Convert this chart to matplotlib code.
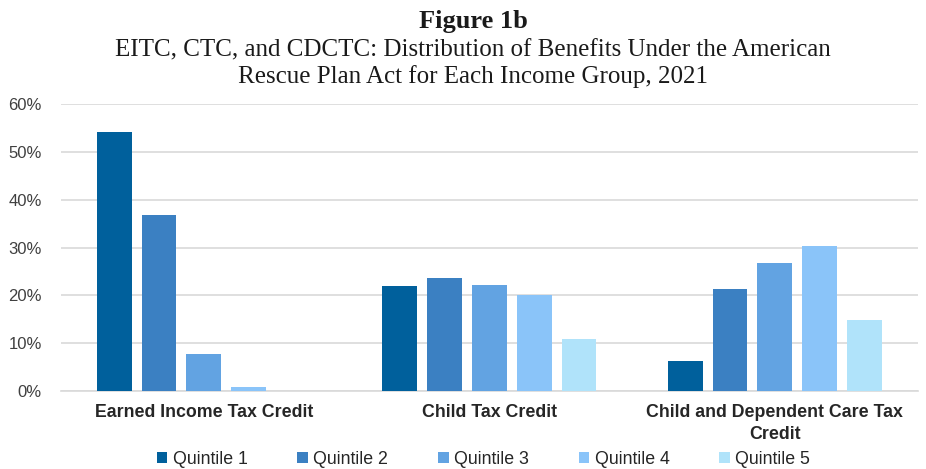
import numpy as np
import matplotlib.pyplot as plt
from matplotlib.ticker import PercentFormatter

categories = ["Earned Income Tax Credit", "Child Tax Credit",
              "Child and Dependent Care Tax\nCredit"]
series_names = ["Quintile 1", "Quintile 2", "Quintile 3", "Quintile 4", "Quintile 5"]
q1 = [54.2, 22.0, 6.3]
q2 = [36.8, 23.7, 21.4]
q3 = [7.7, 22.2, 26.8]
q4 = [0.8, 20.0, 30.4]
q5 = [0.0, 10.9, 14.9]
colors = ["#00609c", "#3b80c2", "#62a3e2", "#8ac4f9", "#b0e3fa"]

plt.rcParams['font.family'] = ['Liberation Sans', 'DejaVu Sans']

fig = plt.figure(figsize=(9.26, 4.69), dpi=100)
ax = fig.add_axes([0.066, 0.166, 0.925, 0.612])

x = np.arange(len(categories))
step = 0.157
width = 0.122
for i, (vals, name) in enumerate(zip([q1, q2, q3, q4, q5], series_names)):
    ax.bar(x + (i - 2) * step, vals, width=width, color=colors[i], label=name, zorder=3)

ax.set_xlim(-0.5, 2.5)
ax.set_ylim(0, 60)
ax.set_yticks(range(0, 61, 10))
ax.yaxis.set_major_formatter(PercentFormatter(decimals=0))
ax.grid(axis="y", color="#d9d9d9", linewidth=1.2, zorder=0)
for s in ["top", "right", "left"]:
    ax.spines[s].set_visible(False)
ax.spines["bottom"].set_color("#d9d9d9")
ax.spines["bottom"].set_linewidth(1.2)
ax.tick_params(axis="y", length=0, labelsize=12, labelcolor="#404040", pad=14)
ax.tick_params(axis="x", length=0, pad=9)
ax.set_xticks(x)
ax.set_xticklabels(categories, fontsize=12.8, fontweight="bold", color="#262626",
                   linespacing=1.4, va="top")

fig.text(0.511, 0.955, "Figure 1b", ha="center", va="center", fontsize=19,
         fontweight="bold", family="Liberation Serif", color="#1a1a1a")
fig.text(0.511, 0.865, "EITC, CTC, and CDCTC: Distribution of Benefits Under the American\n"
         "Rescue Plan Act for Each Income Group, 2021", ha="center", va="center",
         fontsize=18, family="Liberation Serif", linespacing=1.2, color="#1a1a1a")

fig.legend(loc="center", bbox_to_anchor=(0.522, 0.02), ncol=5, frameon=False,
           fontsize=12.8, handlelength=0.6, handleheight=0.6, handletextpad=0.3,
           columnspacing=2.8, labelcolor="#262626")

fig.savefig("out.png", dpi=100)
